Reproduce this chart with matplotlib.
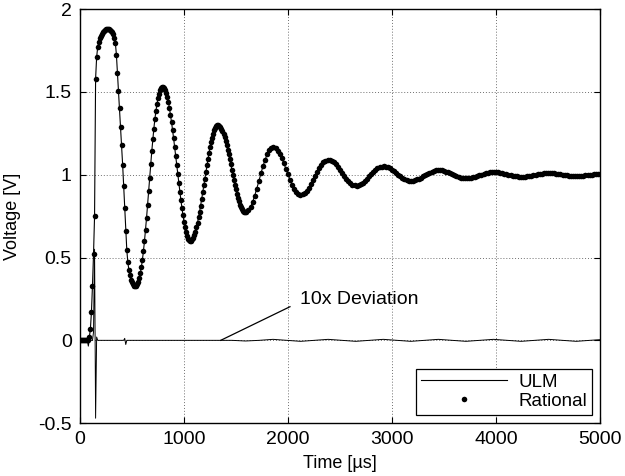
import matplotlib
matplotlib.use("Agg")
import matplotlib.pyplot as plt
from matplotlib.lines import Line2D
import numpy as np

plt.rcParams["font.family"] = ["Liberation Sans", "DejaVu Sans"]

# Step response: 10 us samples up to 1600 us, 20 us after
t_fine = np.arange(0, 1601, 10)
v_fine = [
    0, 0, 0, 0, 0, 0, 0, 0, 0,
    0.02, 0.07, 0.17, 0.33, 0.52, 0.75, 1.58, 1.71, 1.77, 1.80,
    1.825, 1.84, 1.852, 1.862, 1.869, 1.874, 1.878, 1.880, 1.880, 1.879,
    1.876, 1.870, 1.861, 1.848, 1.828, 1.795, 1.725, 1.615, 1.505, 1.400,
    1.290, 1.180, 1.060, 0.930, 0.800, 0.660, 0.545, 0.470, 0.425, 0.392,
    0.367, 0.350, 0.338, 0.331, 0.328,
    0.331, 0.339, 0.355, 0.376, 0.406, 0.442, 0.486, 0.539, 0.599, 0.666,
    0.740, 0.818, 0.900, 0.983, 1.063, 1.141, 1.213, 1.278, 1.336, 1.385,
    1.427, 1.462, 1.489, 1.509, 1.522, 1.529,
    1.529, 1.524, 1.511, 1.493, 1.468, 1.438, 1.402, 1.362, 1.318, 1.270,
    1.220, 1.166, 1.112, 1.057, 1.002, 0.948, 0.896, 0.846, 0.798, 0.755,
    0.716, 0.682, 0.654, 0.631, 0.614, 0.604, 0.600,
    0.602, 0.609, 0.620, 0.637, 0.657, 0.682, 0.710, 0.742, 0.777, 0.814,
    0.853, 0.893, 0.935, 0.976, 1.017, 1.057, 1.095, 1.132, 1.166, 1.196,
    1.224, 1.247, 1.267, 1.282, 1.292, 1.297,
    1.298, 1.294, 1.288, 1.277, 1.263, 1.246, 1.226, 1.204, 1.179, 1.152,
    1.123, 1.093, 1.062, 1.031, 1.000, 0.970, 0.940, 0.913, 0.886, 0.861,
    0.840, 0.820, 0.804, 0.791, 0.782, 0.776, 0.774,
    0.775,
]
t_coarse = np.arange(1620, 5001, 20)
v_coarse = [
    0.785, 0.806, 0.836, 0.873, 0.916, 0.961, 1.008, 1.052, 1.091, 1.123,
    1.148, 1.162,
    1.165, 1.159, 1.146, 1.126, 1.100, 1.069, 1.036, 1.002, 0.969, 0.939,
    0.914, 0.895, 0.882, 0.878,
    0.881, 0.889, 0.903, 0.921, 0.943, 0.967, 0.992, 1.017, 1.040, 1.059,
    1.075, 1.085, 1.090,
    1.089, 1.084, 1.075, 1.062, 1.046, 1.029, 1.011, 0.992, 0.975, 0.960,
    0.948, 0.939, 0.935,
    0.934, 0.937, 0.944, 0.952, 0.963, 0.976, 0.990, 1.003, 1.016, 1.028,
    1.038, 1.045, 1.049,
    1.050, 1.048, 1.044, 1.038, 1.030, 1.021, 1.011, 1.001, 0.991, 0.982,
    0.974, 0.968, 0.964, 0.963,
    0.964, 0.966, 0.971, 0.976, 0.983, 0.990, 0.998, 1.006, 1.013, 1.019,
    1.023, 1.027, 1.028,
    1.028, 1.026, 1.023, 1.019, 1.014, 1.009, 1.003, 0.997, 0.992, 0.987,
    0.983, 0.981, 0.979,
    0.979, 0.980, 0.982, 0.985, 0.988, 0.992, 0.997, 1.001, 1.005, 1.009,
    1.012, 1.014, 1.016,
    1.016, 1.015, 1.014, 1.012, 1.010, 1.007, 1.003, 1.000, 0.997, 0.994,
    0.992, 0.990, 0.988, 0.988,
    0.988, 0.989, 0.991, 0.992, 0.995, 0.997, 1.000, 1.002, 1.005, 1.007,
    1.008, 1.010, 1.010,
    1.010, 1.009, 1.008, 1.007, 1.005, 1.003, 1.001, 0.999, 0.997, 0.995,
    0.994, 0.993, 0.992,
    0.992, 0.992, 0.993, 0.994, 0.996, 0.997, 0.999, 1.000, 1.002, 1.003,
    1.005, 1.005,
]

t_resp = np.concatenate([t_fine, t_coarse])
v_resp = np.concatenate([v_fine, v_coarse])

# 10x deviation between the two models
dev_t = [0, 70, 80, 90, 120, 130, 140, 150, 160, 170,
         420, 430, 440, 450, 1350, 1460,
         1591, 1723, 1856, 1988, 2121, 2253, 2386, 2518, 2651, 2783,
         2916, 3048, 3181, 3313, 3446, 3578, 3711, 3843, 3976, 4108,
         4241, 4373, 4506, 4638, 4771, 4903, 5000]
dev_v = [0, 0, -0.035, 0, 0, 0.05, 0.55, -0.47, 0.02, 0,
         0, 0.012, -0.025, 0, 0, 0,
         -0.004, 0, 0.006, 0, -0.006, 0, 0.006, 0, -0.006, 0,
         0.006, 0, -0.006, 0, 0.006, 0, -0.006, 0, 0.006, 0,
         -0.006, 0, 0.006, 0, -0.006, 0, 0.004]

x_ticks = [0, 1000, 2000, 3000, 4000, 5000]
y_ticks = [-0.5, 0, 0.5, 1, 1.5, 2]
y_tick_labels = ["-0.5", "0", "0.5", "1", "1.5", "2"]

fig = plt.figure(figsize=(6.25, 4.76), dpi=100)
ax = fig.add_axes([0.128, 0.111, 0.832, 0.870])

ax.plot(t_resp, v_resp, color="black", lw=0.8, zorder=3)
ax.plot(t_resp, v_resp, linestyle="none", marker="o", markersize=4.0,
        markeredgewidth=0, color="black", zorder=4)
ax.plot(dev_t, dev_v, color="black", lw=0.7, zorder=3)

# annotation for the deviation trace
ax.plot([1353, 2019], [0, 0.203], color="black", lw=0.9, zorder=5)
ax.text(2115, 0.247, "10x Deviation", fontsize=14, ha="left", va="center")

ax.set_xlim(0, 5000)
ax.set_ylim(-0.5, 2)
ax.set_xticks(x_ticks)
ax.set_yticks(y_ticks)
ax.set_yticklabels(y_tick_labels)
ax.tick_params(direction="in", top=True, right=True, length=4, width=0.8,
               labelsize=14, pad=6)
ax.grid(True, linestyle=(0, (1, 2)), color="#707070", lw=0.7)
ax.set_axisbelow(True)
for s in ax.spines.values():
    s.set_linewidth(1.0)

ax.set_xlabel("Time [\u00b5s]", fontsize=13, labelpad=5)
ax.set_ylabel("Voltage [V]", fontsize=13, labelpad=12)

handles = [
    Line2D([], [], color="black", lw=0.8),
    Line2D([], [], linestyle="none", marker="o", markersize=4.0,
           markeredgewidth=0, color="black"),
]
leg = ax.legend(handles, ["ULM", "Rational"], loc="lower right", fontsize=13.5,
                handlelength=4.6, handletextpad=0.6, labelspacing=0.1,
                borderpad=0.25, borderaxespad=0.45, fancybox=False,
                framealpha=1, edgecolor="black")
leg.get_frame().set_linewidth(0.9)

fig.savefig("out.png", dpi=100)
